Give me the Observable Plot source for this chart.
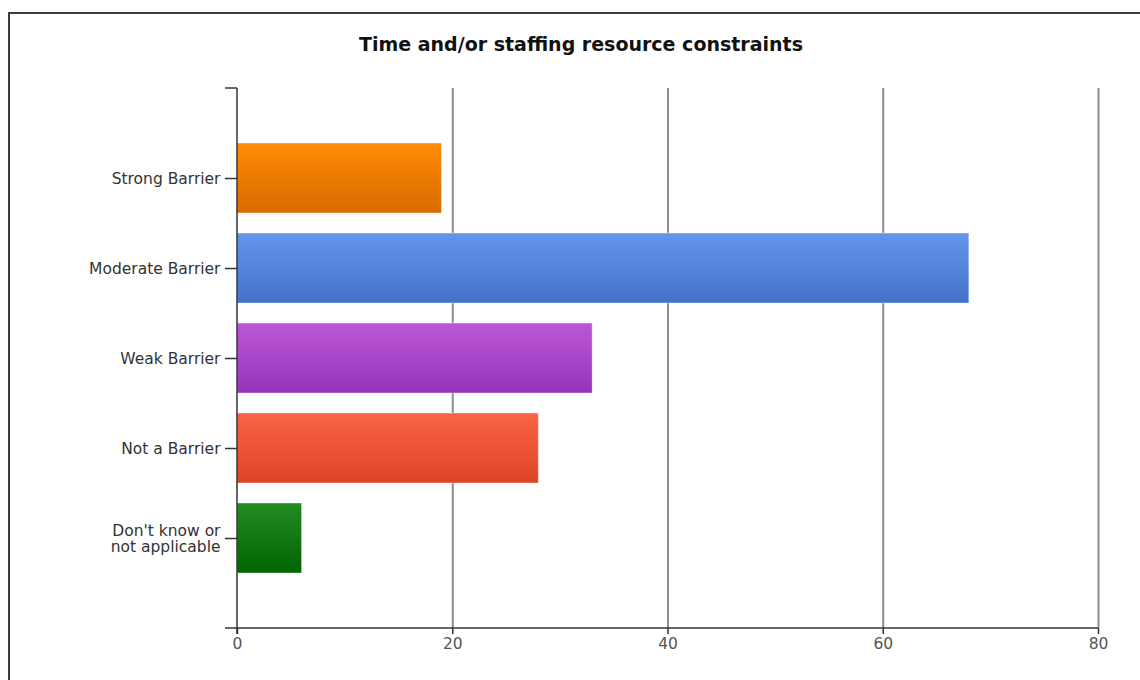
<!DOCTYPE html>
<html>
<head>
<meta charset="utf-8">
<script src="https://cdn.jsdelivr.net/npm/d3@7"></script>
<script src="https://cdn.jsdelivr.net/npm/@observablehq/plot@0.6"></script>
<style>
  html, body { margin: 0; padding: 0; background: #fff; overflow: hidden; }
  #wrap { position: relative; width: 1140px; height: 680px; font-family: "DejaVu Sans", sans-serif; }
  #border { position: absolute; left: 8px; top: 12px; width: 1140px; height: 720px; border: 2px solid #3c3c3c; box-sizing: border-box; }
  #title { position: absolute; top: 33px; left: 0; width: 1162px; text-align: center; font-weight: bold; font-size: 19px; line-height: 22px; color: #111; }
  #chart { position: absolute; left: 0; top: 0; }
</style>
</head>
<body>
<div id="wrap">
  <div id="border"></div>
  <div id="title">Time and/or staffing resource constraints</div>
  <div id="chart"></div>
</div>
<script>
const categories = ["Strong Barrier", "Moderate Barrier", "Weak Barrier", "Not a Barrier", "Don't know or\nnot applicable"];
const values = [19, 68, 33, 28, 6];
const xTicks = [0, 20, 40, 60, 80];
const gridTicks = [20, 40, 60, 80];
const gradientStops = [
  ["#ff8c05", "#d96a00"],
  ["#6495ed", "#4372c8"],
  ["#bc57d6", "#9633b8"],
  ["#fa6446", "#dc4427"],
  ["#238b23", "#006400"]
];

const data = categories.map((c, i) => ({category: c, value: values[i], idx: i}));

const defsMark = () => {
  const ns = "http://www.w3.org/2000/svg";
  const defs = document.createElementNS(ns, "defs");
  gradientStops.forEach((s, i) => {
    const g = document.createElementNS(ns, "linearGradient");
    g.setAttribute("id", "barGrad" + i);
    g.setAttribute("x1", "0"); g.setAttribute("y1", "0");
    g.setAttribute("x2", "0"); g.setAttribute("y2", "1");
    [[0, s[0]], [1, s[1]]].forEach(([o, c]) => {
      const st = document.createElementNS(ns, "stop");
      st.setAttribute("offset", o);
      st.setAttribute("stop-color", c);
      g.appendChild(st);
    });
    defs.appendChild(g);
  });
  return defs;
};

const axisLines = (index, scales, values, dims) => {
  const ns = "http://www.w3.org/2000/svg";
  const g = document.createElementNS(ns, "g");
  const left = dims.marginLeft, right = dims.width - dims.marginRight;
  const top = dims.marginTop, bottom = dims.height - dims.marginBottom;
  const mk = (x1, y1, x2, y2) => {
    const l = document.createElementNS(ns, "line");
    l.setAttribute("x1", x1); l.setAttribute("y1", y1);
    l.setAttribute("x2", x2); l.setAttribute("y2", y2);
    l.setAttribute("stroke", "#333");
    l.setAttribute("stroke-width", "1.5");
    g.appendChild(l);
  };
  mk(left - 12, top, left, top);          // top end tick of y axis
  mk(left - 12, bottom, right, bottom);   // bottom axis line
  mk(left, top, left, bottom + 6);        // y axis line
  return g;
};

const chart = Plot.plot({
  width: 1140,
  height: 680,
  marginLeft: 237,
  marginRight: 42,
  marginTop: 88,
  marginBottom: 52,
  style: {fontFamily: "'DejaVu Sans', sans-serif", fontSize: "15.5px", background: "transparent", overflow: "visible"},
  x: {domain: [0, 80], ticks: xTicks, label: null},
  y: {domain: categories, paddingInner: 0.22, paddingOuter: 0.61, label: null},
  color: {type: "identity"},
  marks: [
    defsMark,
    Plot.ruleX(gridTicks, {stroke: "#8c8c8c", strokeWidth: 2, strokeOpacity: 1}),
    Plot.barX(data, {y: "category", x: "value", fill: d => `url(#barGrad${d.idx})`, stroke: "#ffffff", strokeOpacity: 0.4, strokeWidth: 1}),
    axisLines,
    Plot.axisX({ticks: xTicks, tickSize: 6, tickPadding: 3, stroke: "#333", strokeWidth: 1.5, fill: "#555", fontSize: 15.5, label: null}),
    Plot.axisY({tickSize: 12, tickPadding: 5, stroke: "#333", strokeWidth: 1.5, fill: "#333", fontSize: 15.5, lineHeight: 1.05, label: null})
  ]
});
document.getElementById("chart").appendChild(chart);
</script>
</body>
</html>
